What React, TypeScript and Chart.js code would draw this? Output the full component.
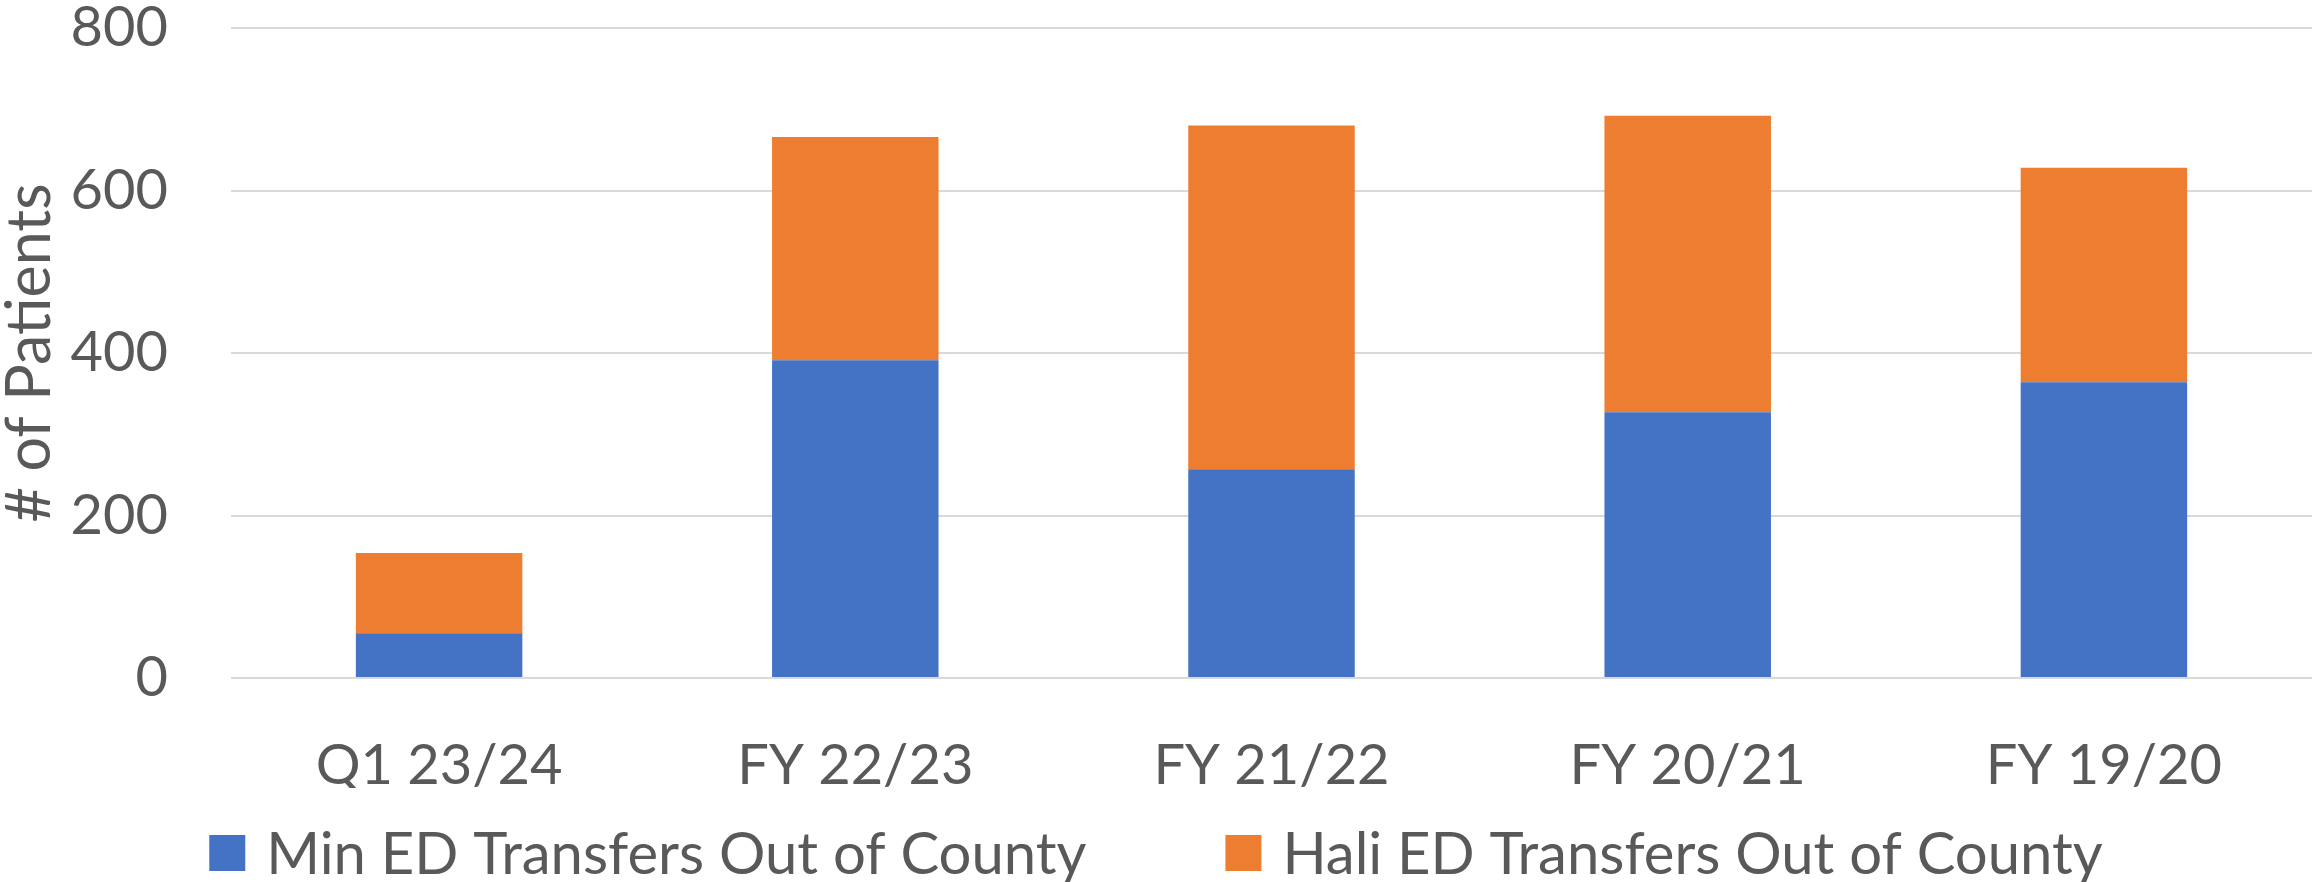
import React, { useEffect, useRef } from "react";
import { Chart, registerables } from "chart.js";

Chart.register(...registerables);

const categories = ["Q1 23/24", "FY 22/23", "FY 21/22", "FY 20/21", "FY 19/20"];
const minTransfers = [55, 391, 257, 327, 364];
const haliTransfers = [99, 275, 423, 365, 264];
const seriesNames = ["Min ED Transfers Out of County", "Hali ED Transfers Out of County"];
const seriesColors = ["#4472C4", "#ED7D31"];
const yTicks = [0, 200, 400, 600, 800];
const yTitle = "# of Patients";

const FAMILY = "Lato, 'Noto Sans', sans-serif";
const TEXT = "#595959";
const TICK_SIZE = 56;
const LEGEND_SIZE = 58;
const TITLE_SIZE = 61;

const legendPlugin = {
  id: "bottomLegend",
  afterDraw(chart: any) {
    const ctx = chart.ctx as CanvasRenderingContext2D;
    ctx.save();
    ctx.font = `${LEGEND_SIZE}px ${FAMILY}`;
    const box = 36;
    const gap = 21;
    const spacing = 139;
    const items = chart.data.datasets.map((d: any) => ({
      text: d.label as string,
      color: d.backgroundColor as string,
      w: ctx.measureText(d.label).width,
    }));
    const total =
      items.reduce((a: number, it: any) => a + box + gap + it.w, 0) + spacing * (items.length - 1);
    let x = (chart.width - total) / 2;
    const cy = 853;
    ctx.textBaseline = "middle";
    ctx.textAlign = "left";
    items.forEach((it: any) => {
      ctx.fillStyle = it.color;
      ctx.fillRect(x, cy - box / 2, box, box);
      ctx.fillStyle = TEXT;
      ctx.fillText(it.text, x + box + gap, cy + 2);
      x += box + gap + it.w + spacing;
    });
    ctx.restore();
  },
};

export default function App() {
  const ref = useRef<HTMLCanvasElement>(null);
  useEffect(() => {
    const font = { family: FAMILY, size: TICK_SIZE };
    const chart = new Chart(ref.current!, {
      type: "bar",
      data: {
        labels: categories,
        datasets: [
          { label: seriesNames[0], data: minTransfers, backgroundColor: seriesColors[0], borderWidth: 0 },
          { label: seriesNames[1], data: haliTransfers, backgroundColor: seriesColors[1], borderWidth: 0 },
        ],
      },
      options: {
        animation: false,
        responsive: false,
        maintainAspectRatio: false,
        layout: { padding: { left: 0, right: 0, top: 0, bottom: 94 } },
        datasets: { bar: { categoryPercentage: 1, barPercentage: 0.4 } },
        scales: {
          x: {
            stacked: true,
            grid: { display: false, drawTicks: false },
            border: { display: false },
            ticks: { font, color: TEXT, padding: 54, maxRotation: 0 },
            afterFit: (s: any) => {
              s.height = 110;
            },
          },
          y: {
            stacked: true,
            min: 0,
            max: 800,
            afterBuildTicks: (s: any) => {
              s.ticks = yTicks.map((v) => ({ value: v }));
            },
            grid: { color: "#d9d9d9", lineWidth: 2, drawTicks: false },
            border: { display: false },
            ticks: { font, color: TEXT, padding: 63 },
            title: {
              display: true,
              text: yTitle,
              font: { family: FAMILY, size: TITLE_SIZE, lineHeight: 1.0 },
              color: TEXT,
              padding: 0,
            },
            afterFit: (s: any) => {
              s.width = 231;
              s.paddingTop = 28;
            },
          },
        },
        plugins: {
          legend: { display: false },
          tooltip: { enabled: false },
        },
      },
      plugins: [legendPlugin],
    });
    return () => chart.destroy();
  }, []);
  return (
    <div style={{ position: "fixed", left: 0, top: 0, width: 2312, height: 882, background: "#fff" }}>
      <canvas ref={ref} width={2312} height={882} style={{ width: 2312, height: 882 }} />
    </div>
  );
}
